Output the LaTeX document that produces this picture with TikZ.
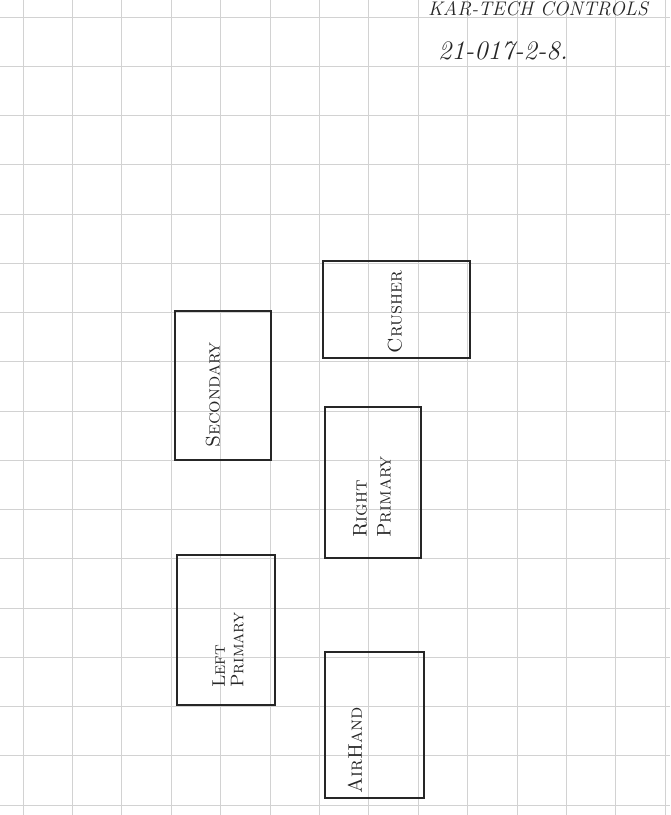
\documentclass[tikz,border=0pt]{standalone}
\usepackage{tikz}
\tikzset{
    unitbox/.style={draw=black!85, rectangle, line width=2.2pt, inner sep=0pt},
    unitlabel/.style={rotate=90, align=left, inner sep=0pt, text=black!85, font=\fontsize{28}{34}\selectfont\scshape},
    sheettext/.style={inner sep=0pt, text=black!85, font=\fontsize{28}{34}\selectfont\itshape},
    gridline/.style={gray!35, line width=0.9pt}
}

\begin{document}
\begin{tikzpicture}[x=0.05cm, y=-0.05cm]

        \useasboundingbox (0,0) rectangle (670,815);

        % -----------------------------------------------------------------
        % GRID PAPER
        % -----------------------------------------------------------------
        \foreach \i in {0,...,13} {
            \draw[gridline] ({23+49.4*\i}, 0) -- ({23+49.4*\i}, 815);
        }
        \foreach \j in {0,...,16} {
            \draw[gridline] (0, {17+49.25*\j}) -- (670, {17+49.25*\j});
        }

        % -----------------------------------------------------------------
        % SHEET HEADER
        % -----------------------------------------------------------------
        \node[sheettext] (company) at (538, 9) {KAR-TECH CONTROLS};
        \node[sheettext, font=\fontsize{38}{40}\selectfont\itshape] (jobno) at (503, 51) {21-017-2-8.};

        % -----------------------------------------------------------------
        % BOXES
        % -----------------------------------------------------------------
        \node[unitbox, minimum width=7.35cm, minimum height=4.85cm] (crusher) at (396.5, 309.5) {};
        \node[unitlabel] (crusherlbl) at (395, 312) {Crusher};

        \node[unitbox, minimum width=4.8cm, minimum height=7.45cm] (secondary) at (223, 385.5) {};
        \node[unitlabel] (secondarylbl) at (213, 395) {Secondary};

        \node[unitbox, minimum width=4.8cm, minimum height=7.55cm] (rprimary) at (373, 482.5) {};
        \node[unitlabel] (rprimarylbl) at (372, 497) {Right\\Primary};

        \node[unitbox, minimum width=4.9cm, minimum height=7.5cm] (lprimary) at (226, 630) {};
        \node[unitlabel, font=\fontsize{26}{26}\selectfont\scshape] (lprimarylbl) at (228, 650) {Left\\Primary};

        \node[unitbox, minimum width=4.95cm, minimum height=7.3cm] (airhand) at (374.5, 725) {};
        \node[unitlabel] (airhandlbl) at (355, 750) {AirHand};

\end{tikzpicture}
\end{document}
